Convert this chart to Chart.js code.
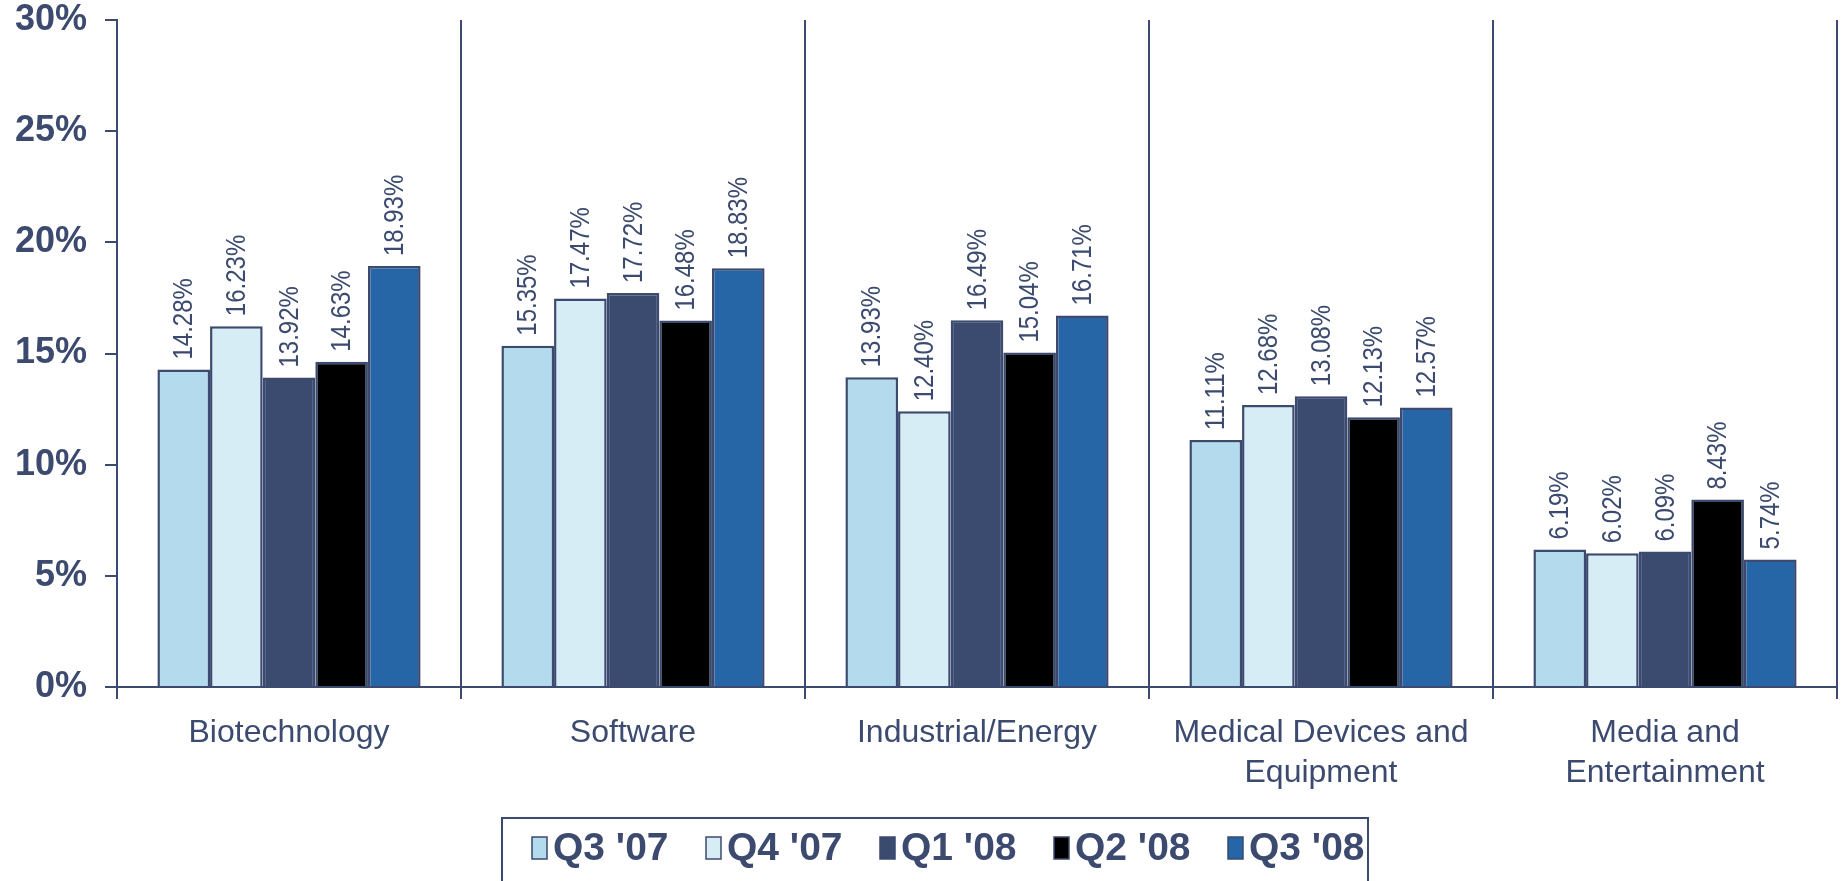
<!DOCTYPE html>
<html>
<head>
<meta charset="utf-8">
<script src="https://cdn.jsdelivr.net/npm/chart.js@4/dist/chart.umd.min.js"></script>
<style>
html,body{margin:0;padding:0;background:#fff;overflow:hidden;}
#wrap{position:relative;width:1841px;height:881px;}
</style>
</head>
<body>
<div id="wrap"><canvas id="c" width="1841" height="881"></canvas></div>
<script>
const categories = ['Biotechnology', 'Software', 'Industrial/Energy', ['Medical Devices and', 'Equipment'], ['Media and', 'Entertainment']];
const seriesNames = ["Q3 '07", "Q4 '07", "Q1 '08", "Q2 '08", "Q3 '08"];
const q3_07 = [14.28, 15.35, 13.93, 11.11, 6.19];
const q4_07 = [16.23, 17.47, 12.40, 12.68, 6.02];
const q1_08 = [13.92, 17.72, 16.49, 13.08, 6.09];
const q2_08 = [14.63, 16.48, 15.04, 12.13, 8.43];
const q3_08 = [18.93, 18.83, 16.71, 12.57, 5.74];
const yTicks = [0, 5, 10, 15, 20, 25, 30];

const seriesValues = [q3_07, q4_07, q1_08, q2_08, q3_08];
const colors = ['#b3dbed', '#d7edf5', '#3b4a6f', '#000000', '#2766a6'];
const NAVY = '#3b4a6e';
const FONT = "'Liberation Sans', Arial, sans-serif";

const datasets = seriesNames.map((n, i) => ({
  label: n,
  data: seriesValues[i],
  backgroundColor: colors[i],
  borderColor: NAVY,
  borderWidth: 2.5,
  borderSkipped: 'bottom',
  categoryPercentage: 0.765,
  barPercentage: 1.0
}));

const labelPlugin = {
  id: 'barLabels',
  afterDatasetsDraw(chart) {
    const ctx = chart.ctx;
    ctx.save();
    ctx.font = '24px ' + FONT;
    ctx.fillStyle = NAVY;
    ctx.textAlign = 'left';
    ctx.textBaseline = 'middle';
    chart.data.datasets.forEach((ds, di) => {
      const meta = chart.getDatasetMeta(di);
      meta.data.forEach((bar, i) => {
        const v = ds.data[i];
        ctx.save();
        ctx.translate(bar.x + 1, bar.y - 10);
        ctx.rotate(-Math.PI / 2);
        ctx.scale(1, 1.17);
        ctx.fillText(v.toFixed(2) + '%', 0, 0);
        ctx.restore();
      });
    });
    ctx.restore();
  }
};

const legendPlugin = {
  id: 'boxLegend',
  afterDraw(chart) {
    const ctx = chart.ctx;
    const left = 502, top = 818, right = 1368, bottom = 900;
    ctx.save();
    ctx.strokeStyle = NAVY;
    ctx.lineWidth = 2;
    ctx.strokeRect(left, top, right - left, bottom - top);
    ctx.font = 'bold 39px ' + FONT;
    ctx.textBaseline = 'middle';
    ctx.textAlign = 'left';
    const cy = 848;
    const step = 174;
    chart.data.datasets.forEach((ds, i) => {
      const x = 532 + i * step;
      ctx.fillStyle = ds.backgroundColor;
      ctx.fillRect(x, cy - 11, 15, 22);
      ctx.strokeStyle = NAVY;
      ctx.lineWidth = 1.5;
      ctx.strokeRect(x, cy - 11, 15, 22);
      ctx.fillStyle = NAVY;
      ctx.fillText(ds.label, x + 21, cy + 1);
    });
    ctx.restore();
  }
};

new Chart(document.getElementById('c'), {
  type: 'bar',
  data: { labels: categories, datasets: datasets },
  options: {
    responsive: false,
    animation: false,
    devicePixelRatio: 1,
    layout: { padding: { top: 20, right: 4, left: 0, bottom: 0 } },
    plugins: { legend: { display: false }, tooltip: { enabled: false } },
    scales: {
      x: {
        offset: true,
        grid: {
          offset: true,
          display: true,
          drawOnChartArea: true,
          color: NAVY,
          lineWidth: 2,
          tickLength: 12,
          tickColor: NAVY
        },
        border: { display: true, color: NAVY, width: 2 },
        ticks: {
          color: NAVY,
          font: { family: FONT, size: 32, lineHeight: 1.25 },
          padding: 14,
          maxRotation: 0,
          autoSkip: false
        },
        afterFit(scale) { scale.height = 881 - 687; }
      },
      y: {
        min: 0,
        max: 30,
        afterBuildTicks(scale) { scale.ticks = yTicks.map(v => ({ value: v })); },
        grid: {
          drawOnChartArea: false,
          color: NAVY,
          tickLength: 12,
          tickColor: NAVY,
          lineWidth: 2
        },
        border: { display: true, color: NAVY, width: 2 },
        ticks: {
          color: NAVY,
          font: { family: FONT, size: 36, weight: 'bold' },
          padding: 18,
          callback: v => v + '%'
        },
        afterFit(scale) { scale.width = 117; scale.paddingTop = 0; scale.paddingBottom = 0; }
      }
    }
  },
  plugins: [labelPlugin, legendPlugin]
});
</script>
</body>
</html>
